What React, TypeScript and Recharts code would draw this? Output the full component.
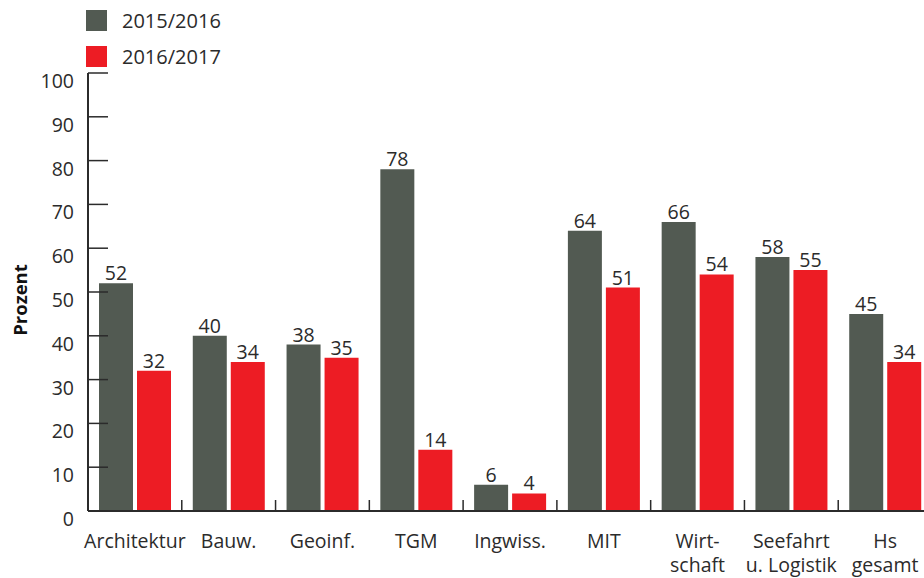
import { Bar, BarChart, LabelList, Legend, XAxis, YAxis } from 'recharts'

const CATEGORIES = ['Architektur', 'Bauw.', 'Geoinf.', 'TGM', 'Ingwiss.', 'MIT', 'Wirt-\nschaft', 'Seefahrt\nu. Logistik', 'Hs\ngesamt']
const SERIES_2015 = [52, 40, 38, 78, 6, 64, 66, 58, 45]
const SERIES_2016 = [32, 34, 35, 14, 4, 51, 54, 55, 34]
const Y_TICKS = [0, 10, 20, 30, 40, 50, 60, 70, 80, 90, 100]

const GREY = '#525a52'
const RED = '#ed1c24'
const INK = '#2b2b2b'
const FONT = '"Open Sans", "Noto Sans", sans-serif'

const data = CATEGORIES.map((name, i) => ({
  name,
  a: SERIES_2015[i],
  b: SERIES_2016[i],
}))

function XTick(props: any) {
  const { x, y, payload, width } = props
  const band = (width ?? 844) / CATEGORIES.length
  const lines = String(payload.value).split('\n')
  const left = x - band / 2
  return (
    <g>
      <line x1={left} x2={left} y1={y - 11} y2={y} stroke={INK} strokeWidth={1.5} />
      {lines.map((l, i) => (
        <text key={i} x={x} y={y + 37 + i * 24} textAnchor="middle" fill={INK} fontSize={19.5} fontFamily={FONT}>
          {l}
        </text>
      ))}
    </g>
  )
}

function YTick(props: any) {
  const { x, y, payload } = props
  return (
    <g>
      <line x1={x} x2={x + 20} y1={y} y2={y} stroke={INK} strokeWidth={1.5} />
      <text x={x - 14} y={y + 15} textAnchor="end" fill={INK} fontSize={19.5} fontFamily={FONT}>
        {payload.value}
      </text>
    </g>
  )
}

function LegendBox() {
  const items = [
    { label: '2015/2016', color: GREY },
    { label: '2016/2017', color: RED },
  ]
  return (
    <div style={{ fontFamily: FONT, fontSize: 20, color: INK }}>
      {items.map((it) => (
        <div key={it.label} style={{ display: 'flex', alignItems: 'center', height: 36 }}>
          <span style={{ width: 21, height: 21, background: it.color, display: 'inline-block' }} />
          <span style={{ marginLeft: 15, lineHeight: '21px' }}>{it.label}</span>
        </div>
      ))}
    </div>
  )
}

export default function App() {
  return (
    <div style={{ position: 'fixed', left: 0, top: 0, width: 924, height: 578, overflow: 'hidden', background: '#fff' }}>
      <BarChart
        width={932}
        height={578}
        data={data}
        margin={{ top: 73, right: 0, bottom: 0, left: 0 }}
        barGap={4}
        barSize={34}
      >
        <XAxis
          dataKey="name"
          height={67}
          interval={0}
          tickSize={0}
          tickMargin={0}
          tickLine={false}
          axisLine={{ stroke: INK, strokeWidth: 2 }}
          tick={<XTick />}
        />
        <YAxis
          width={88}
          domain={[0, 100]}
          ticks={Y_TICKS}
          interval={0}
          tickSize={0}
          tickMargin={0}
          tickLine={false}
          axisLine={{ stroke: INK, strokeWidth: 2 }}
          tick={<YTick />}
          label={{
            value: 'Prozent',
            angle: -90,
            position: 'insideLeft',
            offset: 20,
            dy: 8,
            style: { fontFamily: FONT, fontSize: 18.5, fontWeight: 700, fill: '#111', textAnchor: 'middle' },
          }}
        />
        <Legend
          layout="vertical"
          align="center"
          verticalAlign="middle"
          wrapperStyle={{ top: 2, left: 86, width: 'auto' }}
          content={<LegendBox />}
        />
        <Bar dataKey="a" name="2015/2016" fill={GREY} isAnimationActive={false}>
          <LabelList dataKey="a" position="top" offset={3} fill={INK} fontSize={19.5} fontFamily={FONT} />
        </Bar>
        <Bar dataKey="b" name="2016/2017" fill={RED} isAnimationActive={false}>
          <LabelList dataKey="b" position="top" offset={3} fill={INK} fontSize={19.5} fontFamily={FONT} />
        </Bar>
      </BarChart>
    </div>
  )
}
